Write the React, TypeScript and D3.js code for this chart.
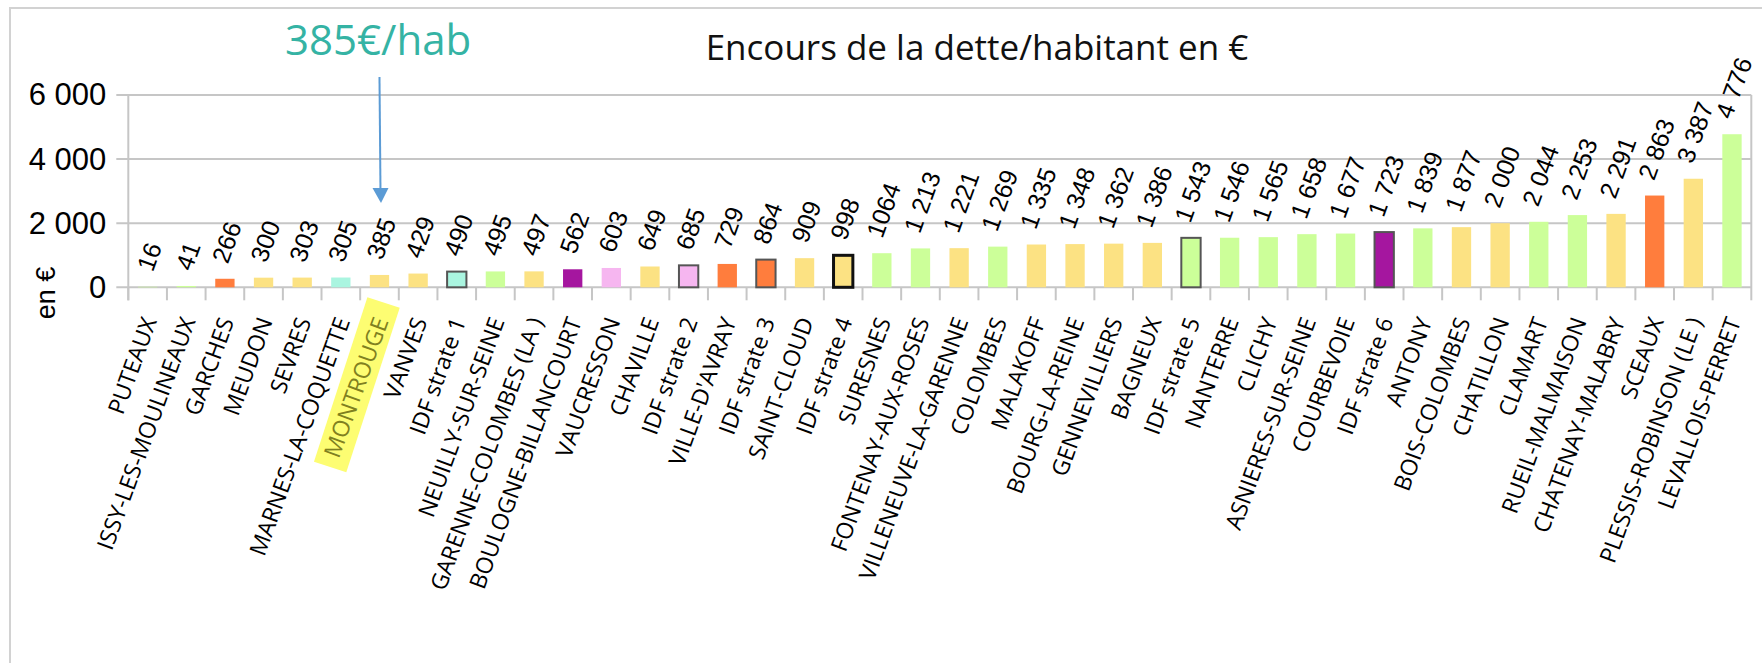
import React, { useEffect, useRef } from 'react';
import * as d3 from 'd3';

// Communes (ordre du graphique)
const communes = [
  "PUTEAUX", "ISSY-LES-MOULINEAUX", "GARCHES", "MEUDON", "SEVRES", "MARNES-LA-COQUETTE",
  "MONTROUGE", "VANVES", "IDF strate 1", "NEUILLY-SUR-SEINE", "GARENNE-COLOMBES (LA )",
  "BOULOGNE-BILLANCOURT", "VAUCRESSON", "CHAVILLE", "IDF strate 2", "VILLE-D'AVRAY",
  "IDF strate 3", "SAINT-CLOUD", "IDF strate 4", "SURESNES", "FONTENAY-AUX-ROSES",
  "VILLENEUVE-LA-GARENNE", "COLOMBES", "MALAKOFF", "BOURG-LA-REINE", "GENNEVILLIERS",
  "BAGNEUX", "IDF strate 5", "NANTERRE", "CLICHY", "ASNIERES-SUR-SEINE", "COURBEVOIE",
  "IDF strate 6", "ANTONY", "BOIS-COLOMBES", "CHATILLON", "CLAMART", "RUEIL-MALMAISON",
  "CHATENAY-MALABRY", "SCEAUX", "PLESSIS-ROBINSON (LE )", "LEVALLOIS-PERRET"
];

// Encours de la dette par habitant (€)
const valeurs = [
  16, 41, 266, 300, 303, 305, 385, 429, 490, 495, 497, 562, 603, 649, 685, 729, 864, 909, 998,
  1064, 1213, 1221, 1269, 1335, 1348, 1362, 1386, 1543, 1546, 1565, 1658, 1677, 1723, 1839,
  1877, 2000, 2044, 2253, 2291, 2863, 3387, 4776
];

// Étiquettes affichées au-dessus des barres
const etiquettes = [
  "16", "41", "266", "300", "303", "305", "385", "429", "490", "495", "497", "562", "603",
  "649", "685", "729", "864", "909", "998", "1064", "1 213", "1 221", "1 269", "1 335",
  "1 348", "1 362", "1 386", "1 543", "1 546", "1 565", "1 658", "1 677", "1 723", "1 839",
  "1 877", "2 000", "2 044", "2 253", "2 291", "2 863", "3 387", "4 776"
];

// Groupe de couleur de chaque barre
const groupes = [
  "vert", "vert", "orange", "jaune", "jaune", "turquoise", "jaune", "jaune", "turquoise", "vert",
  "jaune", "violet", "rose", "jaune", "rose", "orange", "orange", "jaune", "jaune", "vert",
  "vert", "jaune", "vert", "jaune", "jaune", "jaune", "jaune", "vert", "vert", "vert", "vert",
  "vert", "violet", "vert", "jaune", "jaune", "vert", "vert", "jaune", "orange", "jaune", "vert"
];

const yTicks = [0, 2000, 4000, 6000];

const titre = "Encours de la dette/habitant en €";
const axeY = "en €";
const communeMiseEnAvant = "MONTROUGE";

const colors: Record<string, string> = {
  vert: "#ccff99",
  jaune: "#fce283",
  orange: "#ff7d3d",
  violet: "#a5169f",
  rose: "#f6b6f0",
  turquoise: "#aaf5e0"
};

const W = 1762;
const H = 663;

const App = () => {
  const svgRef = useRef<SVGSVGElement>(null);

  useEffect(() => {
    const svg = d3.select(svgRef.current);
    svg.selectAll("*").remove();

    const left = 128.3, right = 1751.3, top = 95, bottom = 287.3;
    const angle = -70;

    const x = d3.scaleBand<string>()
      .domain(communes)
      .range([left, right])
      .paddingInner(0.5)
      .paddingOuter(0.25);

    const y = d3.scaleLinear().domain([0, 6000]).range([bottom, top]);

    const fr = d3.formatLocale({ decimal: ",", thousands: " ", grouping: [3], currency: ["", "€"] });

    // cadre
    svg.append("rect")
      .attr("x", 10).attr("y", 8)
      .attr("width", W).attr("height", H)
      .attr("fill", "none").attr("stroke", "#d2d2d2").attr("stroke-width", 2);

    // titre
    svg.append("text")
      .attr("x", 977).attr("y", 60)
      .attr("text-anchor", "middle")
      .style("font-family", "'Open Sans', sans-serif")
      .style("font-size", "35px")
      .style("font-weight", 500)
      .attr("fill", "#111")
      .text(titre);

    // grille
    svg.append("g").selectAll("line")
      .data(yTicks)
      .enter().append("line")
      .attr("x1", left - 12).attr("x2", right)
      .attr("y1", d => y(d)).attr("y2", d => y(d))
      .attr("stroke", "#c6c6c6").attr("stroke-width", 2);

    // axe Y
    const yAxis = svg.append("g")
      .attr("transform", `translate(${left},0)`)
      .call(d3.axisLeft(y).tickValues(yTicks).tickFormat(d => fr.format(",")(d as number)).tickSize(0).tickPadding(22));
    yAxis.select(".domain").remove();
    yAxis.selectAll("text")
      .style("font-family", "'Liberation Sans', Arial, sans-serif")
      .style("font-size", "31px")
      .attr("fill", "#000");

    svg.append("line")
      .attr("x1", left).attr("x2", left).attr("y1", top).attr("y2", bottom + 13)
      .attr("stroke", "#c6c6c6").attr("stroke-width", 2);
    svg.append("line")
      .attr("x1", right).attr("x2", right).attr("y1", top).attr("y2", bottom + 13)
      .attr("stroke", "#c6c6c6").attr("stroke-width", 2);

    // graduations X (entre les catégories)
    const step = x.step();
    const bords = communes.map(c => (x(c) as number) - (step - x.bandwidth()) / 2);
    svg.append("g").selectAll("line")
      .data(bords)
      .enter().append("line")
      .attr("x1", d => d).attr("x2", d => d)
      .attr("y1", bottom).attr("y2", bottom + 13)
      .attr("stroke", "#c6c6c6").attr("stroke-width", 2);

    // titre axe Y
    svg.append("text")
      .attr("transform", `translate(46,293) rotate(-90)`)
      .attr("text-anchor", "middle")
      .attr("dominant-baseline", "central")
      .style("font-family", "'Liberation Sans', Arial, sans-serif")
      .style("font-size", "27px")
      .text(axeY);

    // barres
    const data = communes.map((c, i) => ({ c, v: valeurs[i], g: groupes[i], lab: etiquettes[i] }));

    svg.append("g").selectAll("rect")
      .data(data)
      .enter().append("rect")
      .attr("x", d => x(d.c) as number)
      .attr("y", d => y(d.v))
      .attr("width", x.bandwidth())
      .attr("height", d => y(0) - y(d.v))
      .attr("fill", d => colors[d.g])
      .attr("stroke", d => d.c === "IDF strate 4" ? "#111" : d.c.startsWith("IDF strate") ? "#555" : "none")
      .attr("stroke-width", d => d.c === "IDF strate 4" ? 3 : 2);

    // étiquettes de valeurs
    const rad = angle * Math.PI / 180;
    svg.append("g").selectAll("text")
      .data(data)
      .enter().append("text")
      .style("font-family", "'Liberation Sans', Arial, sans-serif")
      .style("font-size", "25px")
      .attr("fill", "#000")
      .attr("text-anchor", "start")
      .attr("dominant-baseline", "central")
      .text(d => d.lab)
      .each(function (d) {
        const L = (this as SVGTextElement).getComputedTextLength();
        const cx = (x(d.c) as number) + x.bandwidth() / 2 + 1.5;
        const ax = cx - L * Math.cos(rad) / 2;
        const ay = y(d.v) - 14 - 3;
        d3.select(this).attr("transform", `translate(${ax},${ay}) rotate(${angle})`);
      });

    // surlignage MONTROUGE
    const hx = (x(communeMiseEnAvant) as number) + x.bandwidth() / 2 + 1;
    const catG = svg.append("g");
    const hl = catG.append("rect")
      .attr("fill", "#fdfd72");

    // libellés des catégories
    catG.selectAll("text")
      .data(data)
      .enter().append("text")
      .attr("transform", d => `translate(${(x(d.c) as number) + x.bandwidth() / 2 + 1},318) rotate(${angle})`)
      .attr("text-anchor", "end")
      .attr("dominant-baseline", "central")
      .style("font-family", "'Open Sans', sans-serif")
      .style("font-size", "23px")
      .style("font-weight", 500)
      .attr("fill", d => d.c === communeMiseEnAvant ? "#80801f" : "#000")
      .text(d => d.c)
      .each(function (d) {
        if (d.c !== communeMiseEnAvant) return;
        const L = (this as SVGTextElement).getComputedTextLength();
        hl.attr("x", -L - 16).attr("y", -17)
          .attr("width", L + 26).attr("height", 34)
          .attr("transform", `translate(${hx},312) rotate(-72)`);
      });

    // annotation
    const idx = communes.indexOf(communeMiseEnAvant);
    const ax = (x(communeMiseEnAvant) as number) + x.bandwidth() / 2;
    svg.append("text")
      .attr("x", 285).attr("y", 55)
      .style("font-family", "'Open Sans', sans-serif")
      .style("font-size", "42px")
      .attr("fill", "#35b3a4")
      .text(`${valeurs[idx]}€/hab`);
    svg.append("line")
      .attr("x1", ax).attr("x2", ax + 1)
      .attr("y1", 77).attr("y2", 190)
      .attr("stroke", "#5b9bd5").attr("stroke-width", 2);
    svg.append("path")
      .attr("d", `M${ax - 7},188 L${ax + 9},188 L${ax + 1.5},203 Z`)
      .attr("fill", "#5b9bd5");
  }, []);

  return (
    <svg ref={svgRef} width={W} height={H}
      style={{ position: "absolute", left: 0, top: 0, background: "#fff" }} />
  );
};

export default App;
